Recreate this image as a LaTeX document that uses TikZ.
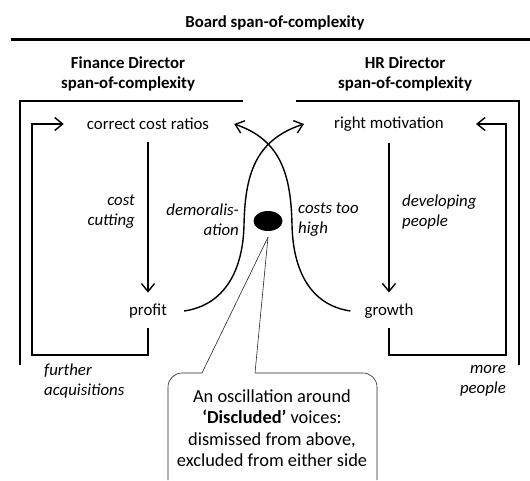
\documentclass[tikz,border=0pt]{standalone}
\usepackage{fontspec}
\setmainfont{Carlito}
\usetikzlibrary{arrows.meta,positioning,shapes.geometric}

\tikzset{
  lbl/.style={font=\fontsize{16.8}{20.5}\selectfont, inner sep=2pt},
  head/.style={font=\fontsize{16.8}{20}\selectfont\bfseries, align=center, inner sep=0pt},
  note/.style={font=\fontsize{16.8}{20}\selectfont\itshape, inner sep=1pt},
  frame/.style={line width=2pt},
  flow/.style={line width=1.4pt, -{Straight Barb[length=8pt,width=13pt]},
               shorten <=10pt, shorten >=9pt},
  cycleline/.style={line width=1.4pt, -{Straight Barb[length=8pt,width=13pt]},
               shorten <=8pt},
  pointer/.style={line width=0.6pt, black!85},
}

\begin{document}
\begin{tikzpicture}[x=1pt,y=-1pt]
    \useasboundingbox (0,0) rectangle (530,480);

    % Headings and the span lines
    \node[head] (board) at (275,23) {Board span-of-complexity};
    \node[head] (fd) at (128,74) {Finance Director\\span-of-complexity};
    \node[head] (hr) at (405,74) {HR Director\\span-of-complexity};

    \coordinate (boardL) at (11,39.5);
    \coordinate (boardR) at (530,39.5);
    \draw[frame, line width=2.4pt] (boardL) -- (boardR);

    \draw[frame] (243,101) -- (20,101) -- (20,365);
    \draw[frame] (296,101) -- (519,101) -- (519,365);

    % The two loops
    \node[lbl] (ccr) at (148,124) {correct cost ratios};
    \node[lbl] (profit) at (148,311) {profit};
    \node[lbl] (rm) at (389,124) {right motivation};
    \node[lbl] (growth) at (389,311) {growth};

    \draw[flow] (ccr) -- (profit);
    \draw[flow] (rm) -- (growth);

    \draw[cycleline] (profit.south) |- (32,355) -- (32,124) -- ([xshift=-21pt]ccr.west);
    \draw[cycleline] (growth.south) |- (506,355) -- (506,124) -- ([xshift=30pt]rm.east);

    \node[note, anchor=east, align=right] (cut) at (136,212) {cost\\cutting};
    \node[note, anchor=west, align=left] (dev) at (401,212) {developing\\people};
    \node[note, anchor=west, align=left] (acq) at (43,381) {further\\acquisitions};
    \node[note, anchor=east, align=right] (more) at (507,381) {more\\people};

    % Crossing curves between the two loops
    \draw[line width=1.4pt, -{Straight Barb[length=8pt,width=13pt]}]
        ([xshift=15pt]profit.east) .. controls (225,305) and (243,270) .. (244,225)
        .. controls (245,175) and (255,140) .. ([xshift=-28pt]rm.west);
    \draw[line width=1.4pt, -{Straight Barb[length=8pt,width=13pt]}]
        ([xshift=-12pt]growth.west) .. controls (310,305) and (293,270) .. (292,225)
        .. controls (291,175) and (281,140) .. ([xshift=23pt]ccr.east);

    \node[note, anchor=east, align=right] (demo) at (240,220) {demoralis-\\ation};
    \node[note, anchor=west, align=left] (costs) at (297,220) {costs too\\high};

    % Discluded voices and the callout
    \node[ellipse, fill=black, minimum width=29pt, minimum height=20pt, inner sep=0pt] (blob) at (268,221) {};

    \coordinate (ptL) at (202,373);
    \coordinate (ptR) at (255,373);
    \draw[pointer] ([yshift=-6pt]blob.south) -- (ptL);
    \draw[pointer] ([yshift=-6pt]blob.south) -- (ptR);
    \draw[pointer, rounded corners=14pt] (ptL) -- (168,373) -- (168,480);
    \draw[pointer, rounded corners=14pt] (ptR) -- (377,373) -- (377,480);

    \node[font=\fontsize{18.4}{21.5}\selectfont, align=center] (osc) at (272,428)
        {An oscillation around\\\textbf{‘Discluded’} voices:\\dismissed from above,\\excluded from either side};
\end{tikzpicture}
\end{document}
